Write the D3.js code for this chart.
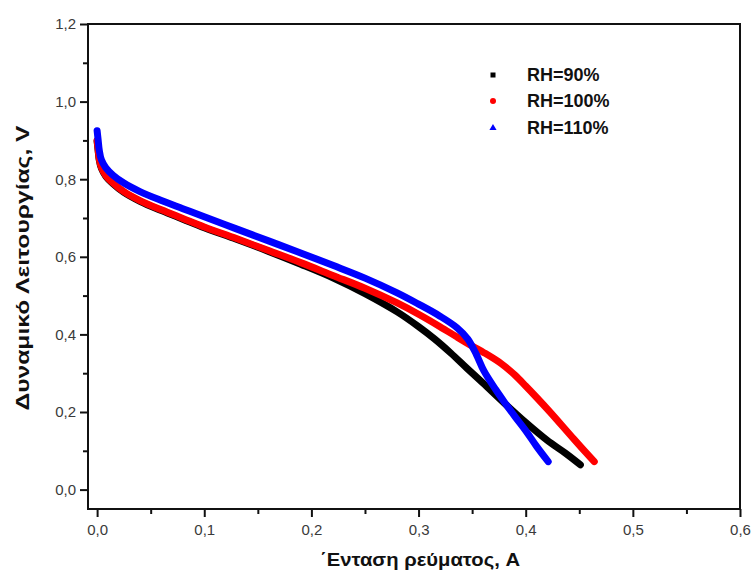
<!DOCTYPE html>
<html><head><meta charset="utf-8">
<script src="https://cdn.jsdelivr.net/npm/d3@7"></script>
<style>body{margin:0;background:#fff}svg{display:block}</style>
</head><body><svg id="c" width="753" height="581"></svg>
<script>
const seriesNames = ["RH=90%", "RH=100%", "RH=110%"];
const seriesColors = ["#000000", "#ff0000", "#0000ff"];

const rh90X = [0, 0.001, 0.002, 0.004, 0.008, 0.015, 0.025, 0.04, 0.06, 0.08, 0.10, 0.13, 0.16, 0.19, 0.22, 0.25, 0.28, 0.30, 0.315, 0.33, 0.345, 0.36, 0.38, 0.40, 0.42, 0.437, 0.451];
const rh90Y = [0.898, 0.873, 0.850, 0.828, 0.808, 0.788, 0.766, 0.743, 0.719, 0.697, 0.675, 0.645, 0.614, 0.581, 0.546, 0.505, 0.458, 0.420, 0.388, 0.352, 0.313, 0.275, 0.223, 0.173, 0.127, 0.094, 0.064];

const rh100X = [0, 0.001, 0.002, 0.004, 0.008, 0.015, 0.025, 0.04, 0.06, 0.08, 0.10, 0.13, 0.16, 0.19, 0.22, 0.25, 0.28, 0.30, 0.32, 0.336, 0.35, 0.361, 0.377, 0.39, 0.40, 0.41, 0.423, 0.445, 0.464];
const rh100Y = [0.900, 0.875, 0.852, 0.830, 0.810, 0.790, 0.768, 0.745, 0.721, 0.699, 0.677, 0.647, 0.616, 0.585, 0.552, 0.519, 0.481, 0.452, 0.420, 0.393, 0.370, 0.353, 0.325, 0.295, 0.267, 0.238, 0.199, 0.130, 0.072];

const rh110X = [0, 0.001, 0.002, 0.004, 0.008, 0.015, 0.025, 0.04, 0.06, 0.08, 0.10, 0.13, 0.16, 0.19, 0.22, 0.25, 0.28, 0.30, 0.32, 0.336, 0.346, 0.354, 0.361, 0.372, 0.38, 0.39, 0.40, 0.41, 0.421];
const rh110Y = [0.925, 0.900, 0.875, 0.850, 0.830, 0.810, 0.790, 0.768, 0.745, 0.724, 0.703, 0.672, 0.641, 0.610, 0.578, 0.545, 0.507, 0.478, 0.447, 0.417, 0.388, 0.348, 0.306, 0.258, 0.226, 0.188, 0.152, 0.112, 0.072];

const xMajorTicks = [0, 0.1, 0.2, 0.3, 0.4, 0.5, 0.6];
const xMinorTicks = [0.05, 0.15, 0.25, 0.35, 0.45, 0.55];
const yMajorTicks = [0, 0.2, 0.4, 0.6, 0.8, 1.0, 1.2];
const yMinorTicks = [0.1, 0.3, 0.5, 0.7, 0.9, 1.1];

const xTitle = "΄Ενταση ρεύματος, A";
const yTitle = "Δυναμικό Λειτουργίας, V";

const svg = d3.select("#c");
const L = 88, R = 740, T = 24, B = 509;
const x = d3.scaleLinear().domain([-0.0085, 0.6]).range([L, R]);
const y = d3.scaleLinear().domain([-0.05, 1.2]).range([B, T]);
const fmt = v => d3.format(".1f")(v).replace(".", ",");
const font = "Liberation Sans, Arial, sans-serif";

// axes
const gx = svg.append("g").attr("transform", `translate(0,${B})`)
  .call(d3.axisBottom(x).tickValues(xMajorTicks).tickSize(8).tickPadding(7).tickFormat(fmt));
const gxm = svg.append("g").attr("transform", `translate(0,${B})`)
  .call(d3.axisBottom(x).tickValues(xMinorTicks).tickSize(5).tickFormat(""));
const gy = svg.append("g").attr("transform", `translate(${L},0)`)
  .call(d3.axisLeft(y).tickValues(yMajorTicks).tickSize(8).tickPadding(4).tickFormat(fmt));
const gym = svg.append("g").attr("transform", `translate(${L},0)`)
  .call(d3.axisLeft(y).tickValues(yMinorTicks).tickSize(5).tickFormat(""));
[gx, gxm, gy, gym].forEach(g => {
  g.select(".domain").remove();
  g.selectAll("line").attr("stroke", "#111").attr("stroke-width", 2);
  g.selectAll("text").attr("font-family", font).attr("font-size", 15).attr("fill", "#3a3a3a");
});

// curves
const line = d3.line().x(d => x(d[0])).y(d => y(d[1])).curve(d3.curveCatmullRom.alpha(0.5));
const seriesData = [
  d3.zip(rh90X, rh90Y),
  d3.zip(rh100X, rh100Y),
  d3.zip(rh110X, rh110Y)
];
seriesData.forEach((d, i) => {
  svg.append("path").datum(d).attr("d", line)
    .attr("fill", "none").attr("stroke", seriesColors[i])
    .attr("stroke-width", 7).attr("stroke-linecap", "round").attr("stroke-linejoin", "round");
});

// frame
svg.append("rect").attr("x", L).attr("y", T).attr("width", R - L).attr("height", B - T)
  .attr("fill", "none").attr("stroke", "#111").attr("stroke-width", 2);

// legend
const legY = [75, 101, 128];
const lg = svg.append("g");
seriesNames.forEach((n, i) => {
  const cx = 493, cy = legY[i];
  if (i === 0) lg.append("rect").attr("x", cx - 2.5).attr("y", cy - 2.5).attr("width", 5).attr("height", 5).attr("fill", seriesColors[i]);
  else if (i === 1) lg.append("circle").attr("cx", cx).attr("cy", cy).attr("r", 3).attr("fill", seriesColors[i]);
  else lg.append("path").attr("d", d3.symbol(d3.symbolTriangle, 22)()).attr("transform", `translate(${cx},${cy})`).attr("fill", seriesColors[i]);
  lg.append("text").attr("x", 527).attr("y", cy + 6).text(n)
    .attr("font-family", font).attr("font-weight", "bold").attr("font-size", 18).attr("fill", "#111");
});

// titles
svg.append("text").attr("x", 420).attr("y", 566).attr("text-anchor", "middle").text(xTitle)
  .attr("font-family", font).attr("font-weight", "bold").attr("font-size", 19).attr("fill", "#111")
  .attr("textLength", 200).attr("lengthAdjust", "spacingAndGlyphs");
svg.append("text").attr("transform", "translate(29,268) rotate(-90)").attr("text-anchor", "middle").text(yTitle)
  .attr("font-family", font).attr("font-weight", "bold").attr("font-size", 19).attr("fill", "#111")
  .attr("textLength", 285).attr("lengthAdjust", "spacingAndGlyphs");
</script>
</body></html>
